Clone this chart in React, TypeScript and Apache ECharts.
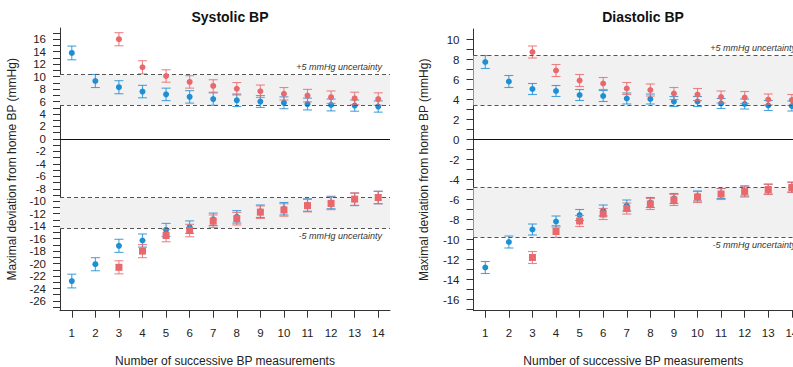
import React, { useEffect, useRef } from "react";
import * as echarts from "echarts";

const measurements = [1, 2, 3, 4, 5, 6, 7, 8, 9, 10, 11, 12, 13, 14];

// Systolic panel
const sysUpperBlue = [13.8, 9.3, 8.3, 7.6, 7.15, 6.75, 6.4, 6.2, 6.0, 5.8, 5.6, 5.45, 5.35, 5.2];
const sysUpperBlueErr = [1.1, 1.05, 1.05, 1.0, 1.0, 1.0, 1.0, 1.0, 0.95, 0.95, 0.95, 0.95, 0.9, 0.9];
const sysUpperRed = [null, null, 16.0, 11.5, 10.1, 9.15, 8.5, 8.05, 7.65, 7.25, 6.95, 6.7, 6.5, 6.4];
const sysUpperRedErr = [0, 0, 1.05, 1.05, 1.0, 1.0, 1.0, 1.0, 1.0, 1.0, 1.0, 1.0, 1.0, 1.0];
const sysLowerBlue = [-22.8, -20.1, -17.15, -16.3, -14.6, -14.15, -12.9, -12.5, -11.6, -11.2, -10.6, -10.2, -9.7, -9.4];
const sysLowerBlueErr = [1.1, 1.05, 1.05, 1.05, 1.05, 1.0, 1.0, 1.0, 1.0, 1.0, 1.0, 1.0, 1.0, 1.0];
const sysLowerRed = [null, null, -20.6, -18.0, -15.5, -14.7, -13.2, -12.8, -11.75, -11.4, -10.7, -10.35, -9.65, -9.4];
const sysLowerRedErr = [0, 0, 1.05, 1.05, 1.0, 1.0, 1.0, 1.0, 1.0, 1.0, 1.0, 1.0, 1.0, 1.0];
const sysBandUpper = [5.35, 10.35];
const sysBandLower = [-14.4, -9.4];
const sysYTicks = Array.from({ length: 45 }, (_, i) => -27 + i); // -27..17
const sysYLabels = Array.from({ length: 22 }, (_, i) => -26 + 2 * i); // -26..16

// Diastolic panel
const diaUpperBlue = [7.75, 5.8, 5.05, 4.85, 4.45, 4.35, 4.1, 4.05, 3.8, 3.8, 3.6, 3.55, 3.4, 3.35];
const diaUpperBlueErr = [0.65, 0.6, 0.55, 0.55, 0.55, 0.55, 0.55, 0.5, 0.5, 0.5, 0.5, 0.5, 0.5, 0.5];
const diaUpperRed = [null, null, 8.75, 6.9, 5.9, 5.6, 5.1, 4.95, 4.6, 4.5, 4.25, 4.2, 4.0, 3.95];
const diaUpperRedErr = [0, 0, 0.6, 0.6, 0.6, 0.6, 0.6, 0.6, 0.6, 0.6, 0.6, 0.6, 0.55, 0.55];
const diaLowerBlue = [-12.8, -10.25, -9.0, -8.2, -7.55, -7.1, -6.6, -6.3, -5.9, -5.65, -5.4, -5.15, -4.95, -4.75];
const diaLowerBlueErr = [0.6, 0.6, 0.55, 0.55, 0.55, 0.55, 0.55, 0.5, 0.5, 0.5, 0.5, 0.5, 0.5, 0.5];
const diaLowerRed = [null, null, -11.8, -9.2, -8.15, -7.45, -6.9, -6.45, -6.05, -5.75, -5.45, -5.2, -5.0, -4.8];
const diaLowerRedErr = [0, 0, 0.6, 0.6, 0.55, 0.55, 0.55, 0.55, 0.55, 0.55, 0.55, 0.55, 0.5, 0.5];
const diaBandUpper = [3.4, 8.4];
const diaBandLower = [-9.8, -4.8];
const diaYTicks = Array.from({ length: 28 }, (_, i) => -17 + i); // -17..10
const diaYLabels = Array.from({ length: 14 }, (_, i) => -16 + 2 * i); // -16..10

const panelTitles = ["Systolic BP", "Diastolic BP"];
const xTitle = "Number of successive BP measurements";
const yTitle = "Maximal deviation from home BP (mmHg)";
const plusLabel = "+5 mmHg uncertainty";
const minusLabel = "-5 mmHg uncertainty";

const BLUE = "#1f8fd3";
const RED = "#e9686c";
const FONT = "'Liberation Sans', Arial, Helvetica, sans-serif";

function pts(vals: (number | null)[]) {
  const out: number[][] = [];
  vals.forEach((v, i) => {
    if (v !== null) out.push([measurements[i], v]);
  });
  return out;
}
function errs(vals: (number | null)[], e: number[]) {
  const out: number[][] = [];
  vals.forEach((v, i) => {
    if (v !== null) out.push([measurements[i], v - e[i], v + e[i]]);
  });
  return out;
}

function errorSeries(idx: number, data: number[][], color: string, z: number) {
  return {
    type: "custom",
    xAxisIndex: idx,
    yAxisIndex: idx,
    z,
    silent: true,
    encode: { x: 0, y: [1, 2] },
    data,
    renderItem: (params: any, api: any) => {
      const x = api.value(0);
      const lo = api.value(1);
      const hi = api.value(2);
      const a = api.coord([x, hi]);
      const b = api.coord([x, lo]);
      const w = 4.5;
      const style = { stroke: color, lineWidth: 1.1, opacity: 0.8 };
      return {
        type: "group",
        children: [
          { type: "line", shape: { x1: a[0], y1: a[1], x2: b[0], y2: b[1] }, style },
          { type: "line", shape: { x1: a[0] - w, y1: a[1], x2: a[0] + w, y2: a[1] }, style },
          { type: "line", shape: { x1: b[0] - w, y1: b[1], x2: b[0] + w, y2: b[1] }, style },
        ],
      };
    },
  };
}

function scatterSeries(idx: number, data: number[][], color: string, symbol: string, size: number, z: number) {
  return {
    type: "scatter",
    xAxisIndex: idx,
    yAxisIndex: idx,
    z,
    silent: true,
    symbol,
    symbolSize: size,
    itemStyle: { color, opacity: 1 },
    data,
  };
}

function bandSeries(idx: number, up: number[], low: number[], endPad: number) {
  const dashed = { type: [4, 3], color: "#555", width: 1 };
  const lbl = (text: string, pos: string) => ({
    show: true,
    formatter: text,
    position: pos,
    fontStyle: "italic",
    fontSize: 9,
    color: "#333",
    fontFamily: FONT,
    distance: [endPad, 3],
  });
  return {
    type: "scatter",
    xAxisIndex: idx,
    yAxisIndex: idx,
    z: 1,
    silent: true,
    data: [],
    markArea: {
      silent: true,
      itemStyle: { color: "#f1f1f1" },
      data: [
        [{ yAxis: up[0] }, { yAxis: up[1] }],
        [{ yAxis: low[0] }, { yAxis: low[1] }],
      ],
    },
    markLine: {
      silent: true,
      symbol: "none",
      animation: false,
      data: [
        { yAxis: up[1], lineStyle: dashed, label: lbl(plusLabel, "insideEndTop") },
        { yAxis: up[0], lineStyle: dashed, label: { show: false } },
        { yAxis: low[1], lineStyle: dashed, label: { show: false } },
        { yAxis: low[0], lineStyle: dashed, label: lbl(minusLabel, "insideEndBottom") },
        { yAxis: 0, lineStyle: { type: "solid", color: "#111", width: 1 }, label: { show: false } },
      ],
    },
  };
}

function xAxis(idx: number, max: number) {
  return {
    type: "value",
    gridIndex: idx,
    min: 0.5,
    max,
    name: xTitle,
    nameLocation: "middle",
    nameGap: 44,
    nameTextStyle: { fontSize: 12, color: "#222", fontFamily: FONT },
    splitLine: { show: false },
    axisLine: { show: true, onZero: false, lineStyle: { color: "#333", width: 1 } },
    axisTick: { show: true, length: 7, customValues: measurements, lineStyle: { color: "#333" } },
    axisLabel: { customValues: measurements, margin: 16, fontSize: 11.5, color: "#222", fontFamily: FONT },
  };
}

function yAxis(idx: number, min: number, max: number, ticks: number[], labels: number[], gap: number) {
  return {
    type: "value",
    gridIndex: idx,
    min,
    max,
    name: yTitle,
    nameLocation: "middle",
    nameGap: gap,
    nameTextStyle: { fontSize: 12, color: "#222", fontFamily: FONT },
    splitLine: { show: false },
    axisLine: { show: true, lineStyle: { color: "#333", width: 1 } },
    axisTick: { show: true, length: 7, customValues: ticks, lineStyle: { color: "#333" } },
    axisLabel: { customValues: labels, margin: 14, fontSize: 11.5, lineHeight: 11, color: "#222", fontFamily: FONT },
  };
}

export default function App() {
  const ref = useRef<HTMLDivElement>(null);
  useEffect(() => {
    if (!ref.current) return;
    const chart = echarts.init(ref.current, undefined, { renderer: "svg" });
    chart.setOption({
      animation: false,
      backgroundColor: "#ffffff",
      title: [
        { text: panelTitles[0], left: 225, top: 5, textAlign: "center", textStyle: { fontSize: 14, fontWeight: "bold", color: "#111", fontFamily: FONT } },
        { text: panelTitles[1], left: 638, top: 5, textAlign: "center", textStyle: { fontSize: 14, fontWeight: "bold", color: "#111", fontFamily: FONT } },
      ],
      grid: [
        { left: 60, right: 403, top: 28, bottom: 56.3, outerBoundsMode: "none", containLabel: false },
        { left: 473.5, right: 0, top: 29, bottom: 56.3, outerBoundsMode: "none", containLabel: false },
      ],
      xAxis: [xAxis(0, 14.5), xAxis(1, 14.05)],
      yAxis: [
        yAxis(0, -27.56, 17.8, sysYTicks, sysYLabels, 42),
        yAxis(1, -17.12, 11.05, diaYTicks, diaYLabels, 44),
      ],
      series: [
        bandSeries(0, sysBandUpper, sysBandLower, 8),
        errorSeries(0, errs(sysUpperBlue, sysUpperBlueErr), BLUE, 2),
        scatterSeries(0, pts(sysUpperBlue), BLUE, "circle", 6, 3),
        errorSeries(0, errs(sysUpperRed, sysUpperRedErr), RED, 4),
        scatterSeries(0, pts(sysUpperRed), RED, "circle", 6, 5),
        errorSeries(0, errs(sysLowerBlue, sysLowerBlueErr), BLUE, 2),
        scatterSeries(0, pts(sysLowerBlue), BLUE, "circle", 6, 3),
        errorSeries(0, errs(sysLowerRed, sysLowerRedErr), RED, 4),
        scatterSeries(0, pts(sysLowerRed), RED, "rect", 7, 5),

        bandSeries(1, diaBandUpper, diaBandLower, -3),
        errorSeries(1, errs(diaUpperBlue, diaUpperBlueErr), BLUE, 2),
        scatterSeries(1, pts(diaUpperBlue), BLUE, "circle", 6, 3),
        errorSeries(1, errs(diaUpperRed, diaUpperRedErr), RED, 4),
        scatterSeries(1, pts(diaUpperRed), RED, "circle", 6, 5),
        errorSeries(1, errs(diaLowerBlue, diaLowerBlueErr), BLUE, 2),
        scatterSeries(1, pts(diaLowerBlue), BLUE, "circle", 6, 3),
        errorSeries(1, errs(diaLowerRed, diaLowerRedErr), RED, 4),
        scatterSeries(1, pts(diaLowerRed), RED, "rect", 7, 5),
      ],
    });
    return () => chart.dispose();
  }, []);
  return (
    <div
      ref={ref}
      style={{ position: "absolute", left: 0, top: 0, width: 793, height: 367, overflow: "hidden", background: "#fff" }}
    />
  );
}
